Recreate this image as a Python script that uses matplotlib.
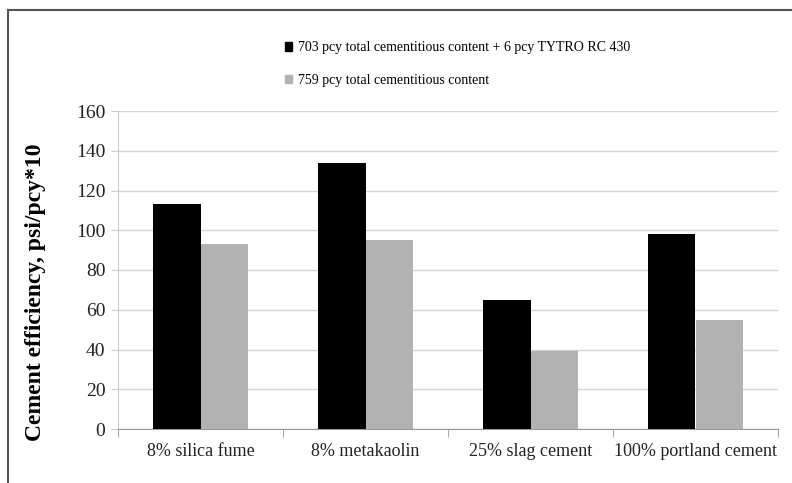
import numpy as np
import matplotlib
matplotlib.use('Agg')
import matplotlib.pyplot as plt
from matplotlib.lines import Line2D
from matplotlib.patches import Patch

plt.rcParams['font.family'] = ['Liberation Serif', 'DejaVu Serif']

# 数据
categories = ['8% silica fume', '8% metakaolin', '25% slag cement', '100% portland cement']
with_tytro = [113, 134, 65, 98]
without_tytro = [93, 95, 39, 55]
series_names = ['703 pcy total cementitious content + 6 pcy TYTRO RC 430',
                '759 pcy total cementitious content']
yticks = [0, 20, 40, 60, 80, 100, 120, 140, 160]

W, H = 792, 483
fig = plt.figure(figsize=(W / 100, H / 100), dpi=100)
ax = fig.add_axes([118 / W, 1 - 429 / H, 660 / W, 318 / H])

x = np.arange(len(categories))
bw = 0.285
ax.bar(x - bw / 2, with_tytro, bw, color='black', zorder=3)
ax.bar(x + bw / 2, without_tytro, bw, color='#b2b2b2', zorder=3)

ax.set_xlim(-0.5, len(categories) - 0.5)
ax.set_ylim(0, 160)
ax.set_yticks(yticks)
ax.set_xticks(x)
ax.set_xticklabels(categories, fontsize=13, color='#222222')
ax.tick_params(axis='x', length=0, pad=10)
ax.set_xticks(np.arange(len(categories) + 1) - 0.5, minor=True)
ax.tick_params(axis='x', which='minor', length=6, color='#999999', direction='out')
ax.tick_params(axis='y', labelsize=14, length=5, color='#cccccc', pad=4, labelcolor='#222222')
ax.grid(axis='y', color='#d4d4d4', linewidth=1, zorder=0)
for s in ['top', 'right']:
    ax.spines[s].set_visible(False)
ax.spines['left'].set_color('#cccccc')
ax.spines['bottom'].set_color('#999999')

ax.set_ylabel('Cement efficiency, psi/pcy*10', fontsize=17, fontweight='bold')
ax.yaxis.set_label_coords(-0.109, 0.43)

# 图例
handles = [Patch(color='black'), Patch(color='#b2b2b2')]
fig.legend(handles, series_names, loc='upper left', bbox_to_anchor=(272 / W, 1 - 29 / H),
           frameon=False, fontsize=10, handlelength=0.55, handleheight=0.55,
           handletextpad=0.4, labelspacing=1.4)

# 外框
fig.add_artist(Line2D([8 / W, 8 / W], [0, 1 - 10 / H], color='#555555', lw=1.5))
fig.add_artist(Line2D([8 / W, 1], [1 - 10 / H, 1 - 10 / H], color='#555555', lw=1.5))

fig.savefig('out.png', dpi=100)
